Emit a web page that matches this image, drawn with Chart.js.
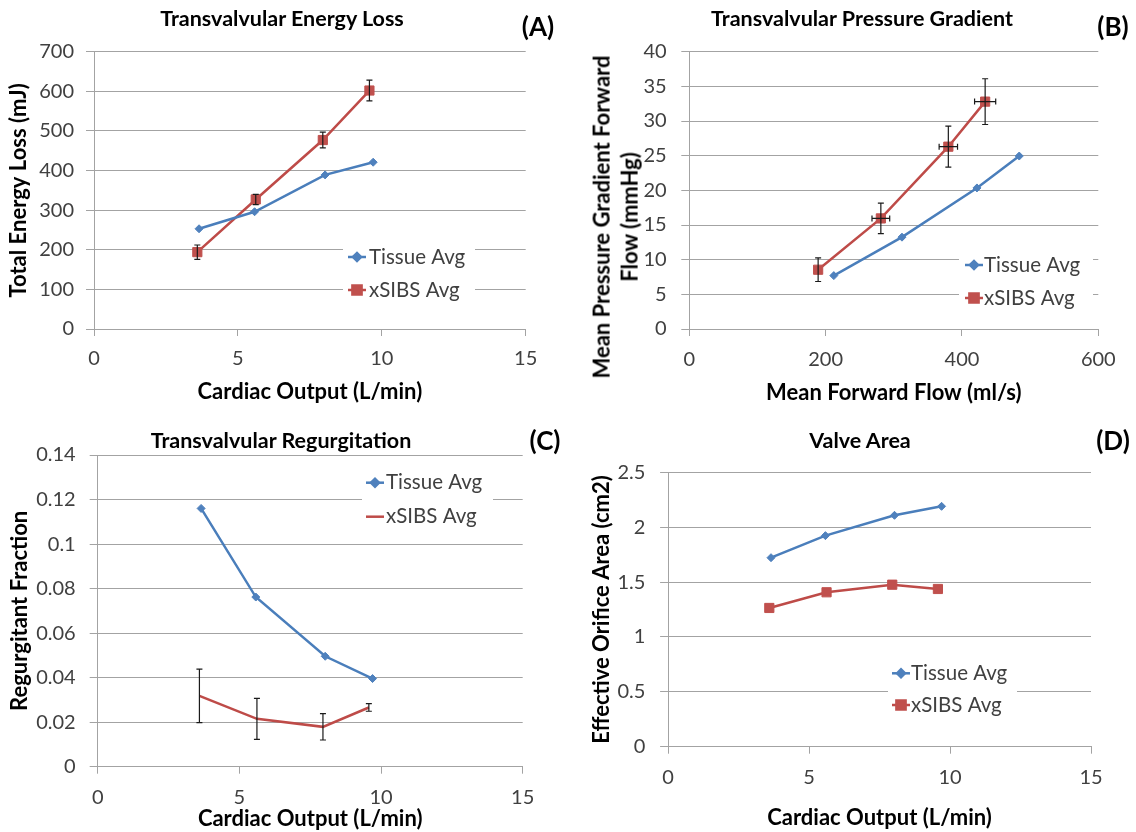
<!DOCTYPE html>
<html>
<head>
<meta charset="utf-8">
<title>Valve hemodynamics</title>
<script src="https://cdn.jsdelivr.net/npm/chart.js@4.4.1/dist/chart.umd.min.js"></script>
<style>
    html, body { margin: 0; padding: 0; background: #fff; }
    #page { position: relative; width: 1136px; height: 832px; overflow: hidden; font-family: Lato, "Open Sans", sans-serif; }
    canvas { position: absolute; }
    .label { position: absolute; transform: translate(-50%, -50%); white-space: nowrap; font-weight: 700; color: #000; }
    .title { font-size: 21.5px; }
    .letter { font-size: 26px; }
    .vtitle { font-size: 22px; line-height: 28.4px; text-align: center; transform: translate(-50%, -50%) rotate(-90deg); }
</style>
</head>
<body>
<div id="page">
    <canvas id="chartA" width="560" height="410" style="left:0;top:0"></canvas>
    <canvas id="chartB" width="576" height="410" style="left:560px;top:0"></canvas>
    <canvas id="chartC" width="560" height="422" style="left:0;top:410px"></canvas>
    <canvas id="chartD" width="576" height="422" style="left:560px;top:410px"></canvas>

    <div class="label title" style="left:282px;top:18px">Transvalvular Energy Loss</div>
    <div class="label letter" style="left:538px;top:26px">(A)</div>
    <div class="label title" style="left:862px;top:18px">Transvalvular Pressure Gradient</div>
    <div class="label letter" style="left:1113px;top:26px">(B)</div>
    <!-- panel B's two-line axis title sits lower than the plot centre in the original -->
    <div class="label vtitle" style="left:616px;top:217px">Mean Pressure Gradient Forward<br>Flow (mmHg)</div>
    <div class="label title" style="left:281px;top:440px">Transvalvular Regurgitation</div>
    <div class="label letter" style="left:545px;top:440px">(C)</div>
    <div class="label title" style="left:860px;top:440px">Valve Area</div>
    <div class="label letter" style="left:1113px;top:440px">(D)</div>
</div>

<script>
// ---- data ----
const seriesNames = ['Tissue Avg', 'xSIBS Avg'];

// cardiac output (L/min) for each flow condition
const tissueCardiacOutput = [3.65, 5.58, 8.03, 9.70];
const xsibsCardiacOutput = [3.59, 5.62, 7.95, 9.57];

// (A) energy loss, mJ
const tissueEnergyLoss = [253, 296, 389, 421];
const xsibsEnergyLoss = [194, 327, 477, 602];
const xsibsEnergyLossErr = [18, 13, 20, 26];
const energyTicks = [0, 100, 200, 300, 400, 500, 600, 700];

// (B) pressure gradient vs mean forward flow
const tissueForwardFlow = [212, 312, 422, 484];
const tissueGradient = [7.7, 13.25, 20.35, 24.95];
const xsibsForwardFlow = [189, 281, 380, 434];
const xsibsGradient = [8.55, 15.95, 26.3, 32.8];
const xsibsGradientErr = [1.7, 2.2, 2.95, 3.3];
const xsibsForwardFlowErr = [0, 13, 13.5, 15.5];
const gradientTicks = [0, 5, 10, 15, 20, 25, 30, 35, 40];
const flowTicks = [0, 200, 400, 600];

// (C) regurgitant fraction
const tissueRegurgitation = [0.116, 0.0762, 0.0496, 0.0396];
const xsibsRegurgitation = [0.0318, 0.0215, 0.0179, 0.0266];
const xsibsRegurgitationErr = [0.012, 0.0092, 0.0059, 0.0017];
const regurgTicks = [0, 0.02, 0.04, 0.06, 0.08, 0.1, 0.12, 0.14];

// (D) effective orifice area, cm2
const tissueValveArea = [1.722, 1.923, 2.108, 2.19];
const xsibsValveArea = [1.264, 1.407, 1.476, 1.437];
const areaTicks = [0, 0.5, 1, 1.5, 2, 2.5];

const outputTicks = [0, 5, 10, 15];

// ---- styling ----
const FONT = 'Lato, "Open Sans", sans-serif';
const BLUE = '#4a7ebb';
const RED = '#be4b48';
const GRID = '#a3a3a3';
const TEXT = '#404040';

function toPoints(xs, ys) {
    return xs.map((x, i) => ({ x: x, y: ys[i] }));
}

// error bars (vertical and optional horizontal) drawn through the chart scales
const errorBarPlugin = {
    id: 'errorBars',
    afterDatasetsDraw(chart) {
        const ctx = chart.ctx;
        const xs = chart.scales.x, ys = chart.scales.y;
        ctx.save();
        ctx.strokeStyle = '#1a1a1a';
        ctx.lineWidth = 1.2;
        chart.data.datasets.forEach(ds => {
            ds.data.forEach((p, i) => {
                const px = xs.getPixelForValue(p.x);
                const py = ys.getPixelForValue(p.y);
                const cap = 3;
                if (ds.errorY && ds.errorY[i]) {
                    const top = ys.getPixelForValue(p.y + ds.errorY[i]);
                    const bot = ys.getPixelForValue(p.y - ds.errorY[i]);
                    ctx.beginPath();
                    ctx.moveTo(px, top); ctx.lineTo(px, bot);
                    ctx.moveTo(px - cap, top); ctx.lineTo(px + cap, top);
                    ctx.moveTo(px - cap, bot); ctx.lineTo(px + cap, bot);
                    ctx.stroke();
                }
                if (ds.errorX && ds.errorX[i]) {
                    const l = xs.getPixelForValue(p.x - ds.errorX[i]);
                    const r = xs.getPixelForValue(p.x + ds.errorX[i]);
                    ctx.beginPath();
                    ctx.moveTo(l, py); ctx.lineTo(r, py);
                    ctx.moveTo(l, py - cap); ctx.lineTo(l, py + cap);
                    ctx.moveTo(r, py - cap); ctx.lineTo(r, py + cap);
                    ctx.stroke();
                }
            });
        });
        ctx.restore();
    }
};

// legend sitting inside the plot on a white patch, like the Excel original
const insideLegendPlugin = {
    id: 'insideLegend',
    afterDraw(chart, args, opts) {
        if (!opts || !opts.box) return;
        const ctx = chart.ctx;
        ctx.save();
        ctx.fillStyle = '#fff';
        ctx.fillRect(opts.box[0], opts.box[1], opts.box[2], opts.box[3]);
        chart.data.datasets.forEach((ds, i) => {
            const y = opts.rows[i];
            ctx.strokeStyle = ds.borderColor;
            ctx.lineWidth = 2.5;
            ctx.beginPath();
            ctx.moveTo(opts.lineX, y);
            ctx.lineTo(opts.lineX + 18, y);
            ctx.stroke();
            if (ds.pointRadius > 0) {
                ctx.fillStyle = ds.pointBackgroundColor;
                ctx.strokeStyle = ds.pointBackgroundColor;
                Chart.helpers.drawPoint(ctx, {
                    pointStyle: ds.pointStyle,
                    radius: ds.pointRadius,
                    borderWidth: 1,
                    rotation: 0
                }, opts.lineX + 9, y);
            }
            ctx.fillStyle = TEXT;
            ctx.font = '20.5px ' + FONT;
            ctx.textBaseline = 'middle';
            ctx.textAlign = 'left';
            ctx.fillText(ds.label, opts.textX, y);
        });
        ctx.restore();
    }
};

function tissueSeries(xs, ys) {
    return {
        label: seriesNames[0],
        data: toPoints(xs, ys),
        showLine: true,
        borderColor: BLUE,
        borderWidth: 2.5,
        pointStyle: 'rectRot',
        pointRadius: 4,
        pointBackgroundColor: '#4f81bd',
        pointBorderColor: '#4f81bd',
        pointBorderWidth: 1
    };
}

function xsibsSeries(xs, ys, marker) {
    return {
        label: seriesNames[1],
        data: toPoints(xs, ys),
        showLine: true,
        borderColor: RED,
        borderWidth: 2.5,
        pointStyle: 'rect',
        pointRadius: marker ? 6.5 : 0,
        pointBackgroundColor: '#c0504d',
        pointBorderColor: '#c0504d',
        pointBorderWidth: 1
    };
}

/**
 * Build one panel. p holds the fixed plot geometry and axis settings.
 */
function makePanel(canvasId, datasets, p) {
    return new Chart(document.getElementById(canvasId), {
        type: 'scatter',
        data: { datasets: datasets },
        plugins: [errorBarPlugin, insideLegendPlugin],
        options: {
            responsive: false,
            animation: false,
            devicePixelRatio: 1,
            layout: { padding: { top: p.top, right: p.right, left: 0, bottom: 0 } },
            plugins: {
                legend: { display: false },
                tooltip: { enabled: false },
                insideLegend: p.legend
            },
            elements: { line: { tension: 0 } },
            scales: {
                x: {
                    type: 'linear',
                    min: p.xTicks[0],
                    max: p.xTicks[p.xTicks.length - 1],
                    afterBuildTicks: axis => { axis.ticks = p.xTicks.map(v => ({ value: v })); },
                    afterFit: axis => { axis.height = p.xHeight; },
                    grid: { drawOnChartArea: false, drawTicks: true, tickLength: 7, color: GRID },
                    border: { color: GRID, width: 1 },
                    ticks: {
                        padding: p.xPad,
                        color: TEXT,
                        font: { family: FONT, size: 20 },
                        maxRotation: 0,
                        callback: v => String(v)
                    },
                    title: {
                        display: true,
                        text: p.xTitle,
                        color: '#000',
                        font: { family: FONT, size: 22, weight: 'bold' },
                        padding: { top: 0, bottom: p.xTitlePad }
                    }
                },
                y: {
                    type: 'linear',
                    min: p.yTicks[0],
                    max: p.yTicks[p.yTicks.length - 1],
                    afterBuildTicks: axis => { axis.ticks = p.yTicks.map(v => ({ value: v })); },
                    afterFit: axis => { axis.width = p.yWidth; },
                    grid: { color: GRID, lineWidth: 1, drawTicks: true, tickLength: 8 },
                    border: { color: GRID, width: 1 },
                    ticks: {
                        padding: p.yPad,
                        color: TEXT,
                        font: { family: FONT, size: 20 },
                        callback: v => String(v)
                    },
                    title: {
                        display: !!p.yTitle,
                        text: p.yTitle || '',
                        color: '#000',
                        font: { family: FONT, size: 22, weight: 'bold' },
                        padding: { top: p.yTitlePad || 0, bottom: 0 }
                    }
                }
            }
        }
    });
}

// (A) Transvalvular Energy Loss
const energyXsibs = xsibsSeries(xsibsCardiacOutput, xsibsEnergyLoss, true);
energyXsibs.errorY = xsibsEnergyLossErr;
makePanel('chartA', [tissueSeries(tissueCardiacOutput, tissueEnergyLoss), energyXsibs], {
    top: 51.7, right: 34.3, yWidth: 94, xHeight: 81,
    xTicks: outputTicks, yTicks: energyTicks,
    xPad: 11, yPad: 12, xTitlePad: 4.8, yTitlePad: 5.8,
    xTitle: 'Cardiac Output (L/min)', yTitle: 'Total Energy Loss (mJ)',
    legend: { box: [343, 240, 132, 66], lineX: 348, textX: 369, rows: [257, 290] }
});

// (B) Transvalvular Pressure Gradient (y title is the HTML label above)
const gradientXsibs = xsibsSeries(xsibsForwardFlow, xsibsGradient, true);
gradientXsibs.errorY = xsibsGradientErr;
gradientXsibs.errorX = xsibsForwardFlowErr;
makePanel('chartB', [tissueSeries(tissueForwardFlow, tissueGradient), gradientXsibs], {
    top: 51.7, right: 37.7, yWidth: 129.3, xHeight: 81,
    xTicks: flowTicks, yTicks: gradientTicks,
    xPad: 12, yPad: 14.7, xTitlePad: 3.8,
    xTitle: 'Mean Forward Flow (ml/s)', yTitle: null,
    legend: { box: [399, 248, 134, 66], lineX: 405, textX: 424, rows: [265, 298] }
});

// (C) Transvalvular Regurgitation
const regurgXsibs = xsibsSeries(xsibsCardiacOutput, xsibsRegurgitation, false);
regurgXsibs.errorY = xsibsRegurgitationErr;
makePanel('chartC', [tissueSeries(tissueCardiacOutput, tissueRegurgitation), regurgXsibs], {
    top: 45, right: 37.3, yWidth: 97.7, xHeight: 65.3,
    xTicks: outputTicks, yTicks: regurgTicks,
    xPad: 12.3, yPad: 14, xTitlePad: 0, yTitlePad: 7.2,
    xTitle: 'Cardiac Output (L/min)', yTitle: 'Regurgitant Fraction',
    legend: { box: [362, 56, 131, 67], lineX: 366, textX: 386, rows: [72.7, 106.7] }
});

// (D) Valve Area
makePanel('chartD', [
    tissueSeries(tissueCardiacOutput, tissueValveArea),
    xsibsSeries(xsibsCardiacOutput, xsibsValveArea, true)
], {
    top: 62.3, right: 45, yWidth: 108.1, xHeight: 85.3,
    xTicks: outputTicks, yTicks: areaTicks,
    xPad: 12.3, yPad: 14.7, xTitlePad: 0.8, yTitlePad: 28.5,
    xTitle: 'Cardiac Output (L/min)', yTitle: 'Effective Orifice Area (cm2)',
    legend: { box: [328, 247, 129, 64], lineX: 332, textX: 351, rows: [263.3, 295] }
});
</script>
</body>
</html>
